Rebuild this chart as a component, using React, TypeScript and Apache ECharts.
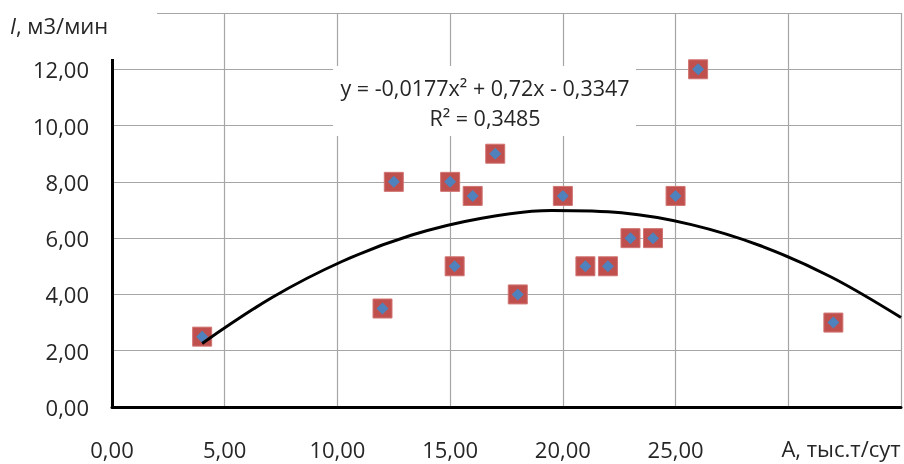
import React, { useEffect, useRef } from "react";
import * as echarts from "echarts";

const xValues = [4, 12, 12.5, 15, 15.2, 16, 17, 18, 20, 21, 22, 23, 24, 25, 26, 32];
const yValues = [2.5, 3.5, 8, 8, 5, 7.5, 9, 4, 7.5, 5, 5, 6, 6, 7.5, 12, 3];

// trendline readings from the picture (evenly spaced along x)
const trendX = [4, 7.1, 10.2, 13.3, 16.4, 19.5, 22.6, 25.7, 28.8, 31.9, 35];
const trendY = [2.26, 3.89, 5.17, 6.11, 6.71, 6.98, 6.9, 6.48, 5.72, 4.62, 3.18];

const equationText = "y = -0,0177x² + 0,72x - 0,3347";
const r2Text = "R² = 0,3485";
const xAxisTitle = "A, тыс.т/сут";

const fmt = (v: number) => v.toFixed(2).replace(".", ",");

export default function App() {
  const ref = useRef<HTMLDivElement>(null);
  useEffect(() => {
    if (!ref.current) return;
    const chart = echarts.init(ref.current, undefined, { renderer: "svg" });
    const pts = xValues.map((x, i) => [x, yValues[i]]);
    const trend = trendX.map((x, i) => [x, trendY[i]]);
    const font = "'Open Sans', 'Liberation Sans', sans-serif";
    const txt = "#262626";
    chart.setOption({
      animation: false,
      grid: { left: 112, right: 1, top: 13, bottom: 57 },
      xAxis: {
        type: "value",
        min: 0,
        max: 35,
        interval: 5,
        axisLine: { show: true, onZero: false, lineStyle: { color: "#000", width: 3 } },
        axisTick: { show: false },
        splitLine: { show: true, lineStyle: { color: "#A6A6A6", width: 1.2 } },
        axisLabel: {
          margin: 31,
          color: txt,
          fontSize: 22,
          fontFamily: font,
          formatter: (v: number) => (v >= 30 ? "" : fmt(v)),
        },
      },
      yAxis: {
        type: "value",
        min: 0,
        max: 14,
        interval: 2,
        axisLine: { show: true, lineStyle: { color: "#000", width: 3 } },
        axisTick: { show: false },
        splitLine: { show: true, lineStyle: { color: "#A6A6A6", width: 1.2 } },
        axisLabel: {
          margin: 23,
          color: txt,
          fontSize: 22,
          fontFamily: font,
          formatter: (v: number) => (v >= 14 ? "" : fmt(v)),
        },
      },
      series: [
        {
          type: "scatter",
          data: pts,
          symbol: "rect",
          symbolSize: 19,
          itemStyle: { color: "#C0504D", borderColor: "#D07472", borderWidth: 1, opacity: 1 },
          z: 2,
        },
        {
          type: "scatter",
          data: pts,
          symbol: "diamond",
          symbolSize: 12,
          itemStyle: { color: "#4F81BD", opacity: 1 },
          z: 3,
        },
        {
          type: "line",
          data: trend,
          smooth: 0.35,
          showSymbol: false,
          lineStyle: { color: "#000", width: 3 },
          z: 4,
        },
      ],
      graphic: [
        { type: "rect", shape: { x: 0, y: 0, width: 157, height: 59 }, style: { fill: "#fff" }, z: 100 },
        {
          type: "text",
          x: 10,
          y: 25,
          z: 101,
          style: {
            text: "{i|I}, м3/мин",
            verticalAlign: "middle",
            fontSize: 22,
            fontFamily: font,
            fill: txt,
            rich: { i: { fontStyle: "italic", fontSize: 22, fontFamily: font, fill: txt } },
          },
        },
        { type: "rect", shape: { x: 333, y: 66, width: 303, height: 70 }, style: { fill: "#fff" }, z: 100 },
        {
          type: "text",
          x: 485,
          y: 87,
          z: 101,
          style: { text: equationText, align: "center", verticalAlign: "middle", fontSize: 21.5, fontFamily: font, fill: txt },
        },
        {
          type: "text",
          x: 485,
          y: 117,
          z: 101,
          style: { text: r2Text, align: "center", verticalAlign: "middle", fontSize: 21.5, fontFamily: font, fill: txt },
        },
        {
          type: "text",
          x: 841,
          y: 448,
          z: 101,
          style: { text: xAxisTitle, align: "center", verticalAlign: "middle", fontSize: 22, fontFamily: font, fill: txt },
        },
      ],
    });
    return () => chart.dispose();
  }, []);
  return <div ref={ref} style={{ position: "fixed", left: 0, top: 0, width: 904, height: 464 }} />;
}
